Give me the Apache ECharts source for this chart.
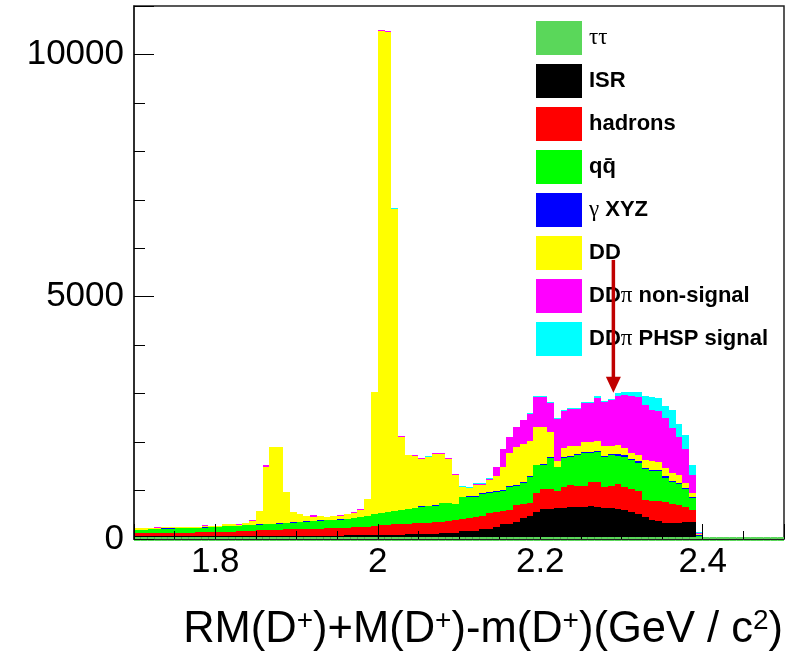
<!DOCTYPE html>
<html><head><meta charset="utf-8">
<script src="https://cdn.jsdelivr.net/npm/echarts@6/dist/echarts.min.js"></script>
<style>html,body{margin:0;padding:0;background:#fff}#c{width:797px;height:653px}</style>
</head><body><div id="c"></div><script>
// Histogram binning: 1.7 .. 2.5, bin width 1/120
const BIN_LOW = 1.7;
const BIN_WIDTH = 1 / 120;

// Bin contents (bins starting at 1.7, last filled bin ends at 2.4)
const isr = [55,55,56,55,57,58,60,60,62,60,62,60,63,62,60,64,62,65,66,64,66,65,67,70,68,70,72,70,71,70,72,75,74,76,75,78,85,84,88,86,95,98,
103,103,105,117,117,120,172,172,172,213,213,255,303,303,358,427,482,565,613,613,640,647,654,668,668,689,660,647,634,620,605,560,510,450,400,370,340,325,330,350,358,30];
const hadrons = [60,63,64,67,68,67,68,70,70,75,76,80,85,88,92,94,103,105,114,121,124,130,133,130,137,135,140,145,147,150,153,160,171,174,180,182,195,206,212,219,217,222,
221,237,250,241,253,280,241,258,289,257,317,305,282,297,344,293,268,378,413,413,360,423,462,432,422,496,525,420,466,510,475,473,490,356,390,410,420,405,370,320,232,20];
const qqbar = [75,74,78,83,87,89,90,90,92,93,94,100,102,108,113,114,115,118,118,120,120,123,128,140,147,155,163,163,167,172,175,180,187,205,225,260,260,265,270,285,303,320,
344,340,335,379,367,320,447,445,414,460,420,420,415,480,398,440,530,577,504,641,480,597,584,635,680,585,619,620,635,592,620,599,577,640,615,625,507,441,430,363,250,20];
const gammaXYZ = [4,4,4,4,14,14,4,4,4,4,12,4,4,4,4,4,4,4,4,4,4,4,4,4,4,4,4,4,4,4,4,4,4,4,4,6,6,6,6,6,6,6,
8,8,8,8,8,8,8,8,10,10,10,10,12,12,12,15,20,15,15,18,15,18,20,20,20,20,18,23,20,28,25,23,23,24,20,20,23,19,20,17,20,5];
const ddbar = [35,33,30,15,22,22,20,20,18,18,25,18,15,40,38,15,40,70,278,1183,1589,1573,641,216,156,113,83,85,67,81,61,96,110,149,335,2512,9933,9898,6231,1513,1103,1076,
984,1000,1057,1010,905,594,199,164,231,176,259,312,482,678,796,788,732,786,776,533,105,188,201,166,221,221,210,211,166,185,148,115,135,162,187,155,170,180,180,100,84,20];
const ddpiNonSignal = [4,4,4,25,5,5,4,4,4,4,25,4,4,4,4,25,4,25,4,25,4,4,4,4,4,4,25,4,4,4,25,4,4,4,4,5,20,20,10,10,10,12,
3,12,13,13,12,14,14,15,29,29,29,188,361,338,407,487,558,606,606,599,875,770,759,759,789,789,879,910,940,1015,1097,1180,1195,1138,1043,1070,1030,930,770,705,378,30];
const ddpiPhsp = [1,1,1,1,1,1,1,1,1,1,1,1,1,1,1,1,1,1,1,1,1,1,1,1,1,1,1,1,1,1,1,1,1,1,1,1,1,1,15,15,1,1,
10,5,5,5,5,4,4,5,5,5,5,4,5,6,6,9,6,27,27,20,18,22,20,20,24,24,30,27,25,70,60,80,100,190,275,250,250,355,270,294,213,25];
const tautau = [0,0,0,0,0,0,0,0,0,0,0,0,0,0,0,0,0,0,0,0,0,0,0,0,0,0,0,0,0,0,0,0,0,0,0,0,0,0,0,0,0,0,0,0,0,0,0,0,
0,0,0,0,0,0,0,0,0,0,0,0,0,0,0,0,0,0,0,0,0,0,0,0,0,0,0,0,0,0,0,0,0,0,0,0,0,0,0,0,0,0,0,0,0,0,0,0];

// Signal-region arrow: x position, start value, tip value
const arrowX = 2.29;
const arrowFrom = 5760;
const arrowTo = 3020;

const legendNames = ['ττ','ISR','hadrons','qq\u0304','γ XYZ','DD','DDπ non-signal','DDπ PHSP signal'];

const stackLayers = [
  {name:'ISR', values:isr, color:'#000000'},
  {name:'hadrons', values:hadrons, color:'#ff0000'},
  {name:'qq\u0304', values:qqbar, color:'#00ff00'},
  {name:'γ XYZ', values:gammaXYZ, color:'#0000ff'},
  {name:'DD', values:ddbar, color:'#ffff00'},
  {name:'DDπ non-signal', values:ddpiNonSignal, color:'#ff00ff'},
  {name:'DDπ PHSP signal', values:ddpiPhsp, color:'#00ffff'}
];

function segItem(params, api){
  const a = api.coord([api.value(0), api.value(3)]);
  const b = api.coord([api.value(1), api.value(2)]);
  const x0 = Math.round(a[0]), x1 = Math.round(b[0]);
  const y0 = Math.round(a[1]), y1 = Math.round(b[1]);
  if (y1 - y0 <= 0) return null;
  return {type:'rect', shape:{x:x0, y:y0, width:x1-x0, height:y1-y0}, style:{fill: api.visual('color')}};
}
function lineItem(params, api){
  const a = api.coord([api.value(0), api.value(2)]);
  const b = api.coord([api.value(1), api.value(2)]);
  return {type:'line', shape:{x1:a[0], y1:a[1], x2:b[0], y2:b[1]}, style:{stroke: api.visual('color'), lineWidth:4}};
}
function arrowItem(params, api){
  const a = api.coord([api.value(0), api.value(1)]);
  const b = api.coord([api.value(0), api.value(2)]);
  const c = '#c00000';
  return {type:'group', children:[
    {type:'line', shape:{x1:a[0], y1:a[1], x2:b[0], y2:b[1]-12}, style:{stroke:c, lineWidth:3.5}},
    {type:'polygon', shape:{points:[[b[0]-7.5, b[1]-16],[b[0]+7.5, b[1]-16],[b[0], b[1]]]}, style:{fill:c}}
  ]};
}

const series = [];
const cum = [];
stackLayers.forEach(function(layer){
  const data = layer.values.map(function(v, k){
    const base = cum[k] || 0;
    cum[k] = base + v;
    return [BIN_LOW + k*BIN_WIDTH, BIN_LOW + (k+1)*BIN_WIDTH, base, cum[k]];
  });
  series.push({type:'custom', name:layer.name, renderItem:segItem, data:data,
    encode:{x:[0,1], y:[2,3]}, itemStyle:{color:layer.color}, z:2, silent:true});
});
series.push({type:'custom', name:'ττ', renderItem:lineItem,
  data: tautau.map(function(v,k){ return [BIN_LOW + k*BIN_WIDTH, BIN_LOW + (k+1)*BIN_WIDTH, v]; }),
  encode:{x:[0,1], y:2}, itemStyle:{color:'#5ad75a'}, z:3, silent:true});
series.push({type:'custom', name:'arrow', renderItem:arrowItem,
  data:[[arrowX, arrowFrom, arrowTo]], encode:{x:0, y:[1,2]}, z:20, silent:true});

const legendFmt = {
  'ττ':'{g|ττ}',
  'ISR':'{b|ISR}',
  'hadrons':'{b|hadrons}',
  'qq\u0304':'{b|qq\u0304}',
  'γ XYZ':'{g|γ}{b| XYZ}',
  'DD':'{b|DD}',
  'DDπ non-signal':'{b|DD}{g|π}{b| non-signal}',
  'DDπ PHSP signal':'{b|DD}{g|π}{b| PHSP signal}'
};

const chart = echarts.init(document.getElementById('c'), null, {renderer:'canvas'});
chart.setOption({
  animation:false,
  backgroundColor:'#ffffff',
  grid:{left:134, top:6, width:650, height:533, show:true, borderColor:'#222', borderWidth:1.5, backgroundColor:'transparent'},
  xAxis:{type:'value', min:1.7, max:2.5, splitNumber:4, z:5,
    axisLine:{show:true, onZero:false, lineStyle:{color:'#222', width:1}},
    axisTick:{show:true, inside:true, length:15, lineStyle:{color:'#000', width:1}},
    minorTick:{show:true, splitNumber:4, length:8, lineStyle:{color:'#000', width:1}},
    axisLabel:{fontSize:35, fontFamily:'Liberation Sans', color:'#000', margin:6, showMinLabel:false, showMaxLabel:false,
      formatter:function(v){ return String(Math.round(v*10)/10); }},
    splitLine:{show:false}, minorSplitLine:{show:false}},
  yAxis:{type:'value', min:0, max:11000, interval:5000, z:5,
    axisLine:{show:true, lineStyle:{color:'#222', width:1.5}},
    axisTick:{show:true, inside:true, length:20, lineStyle:{color:'#000', width:1}},
    minorTick:{show:true, splitNumber:5, length:11, lineStyle:{color:'#000', width:1}},
    axisLabel:{fontSize:35, fontFamily:'Liberation Sans', color:'#000', margin:10, showMaxLabel:false,
      formatter:function(v){ return String(v); }},
    splitLine:{show:false}, minorSplitLine:{show:false}},
  legend:{orient:'vertical', left:536, top:21, padding:0, itemWidth:46, itemHeight:34, itemGap:9,
    icon:'rect', selectedMode:false, data:legendNames,
    formatter:function(n){ return legendFmt[n] || n; },
    textStyle:{color:'#000', padding:[0,0,0,2], rich:{
      b:{fontFamily:'Liberation Sans', fontWeight:'bold', fontSize:22, color:'#000'},
      g:{fontFamily:'Liberation Serif', fontWeight:'normal', fontSize:23, color:'#000'}
    }}},
  graphic:[{type:'text', right:14, top:607, z:10,
    style:{text:'{m|RM(D}{s|+}{m|)+M(D}{s|+}{m|)-m(D}{s|+}{m|)(GeV / c}{s|2}{m|)}',
      rich:{
        m:{fontFamily:'Liberation Sans', fontSize:43.5, fill:'#000', lineHeight:46},
        s:{fontFamily:'Liberation Sans', fontSize:28, fill:'#000', verticalAlign:'top', lineHeight:27}
      }}}],
  series:series
});
</script></body></html>
